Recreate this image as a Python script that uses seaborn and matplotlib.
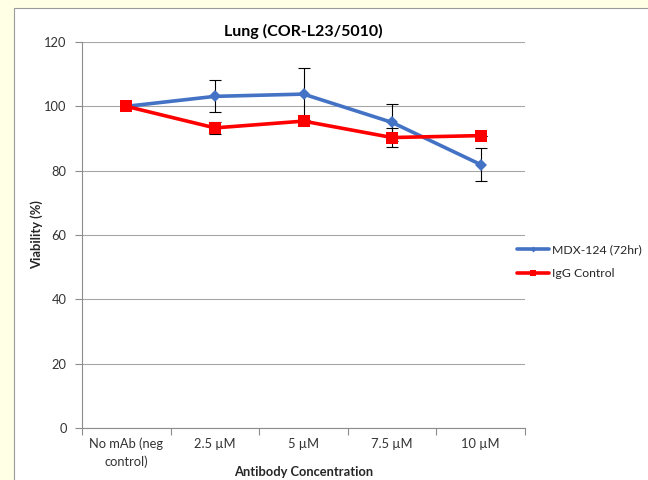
import matplotlib
matplotlib.use("Agg")
import matplotlib.pyplot as plt
import matplotlib.patches as mpatches
from matplotlib.lines import Line2D
import seaborn as sns
import pandas as pd
import numpy as np

categories = ["No mAb (neg\ncontrol)", "2.5 \u00b5M", "5 \u00b5M", "7.5 \u00b5M", "10 \u00b5M"]
mdx_values = [100, 103.1, 103.8, 95.0, 81.9]
mdx_err = [0, 5.0, 8.2, 5.8, 5.0]
igg_values = [100, 93.3, 95.4, 90.3, 90.9]
igg_err = [0, 1.8, 0, 2.9, 0]
series_names = ["MDX-124 (72hr)", "IgG Control"]
yticks = [0, 20, 40, 60, 80, 100, 120]

sns.set_theme(style="white")
plt.rcParams['font.family'] = ['Lato', 'DejaVu Sans']

fig = plt.figure(figsize=(6.48, 4.8), dpi=100)
fig.patch.set_facecolor("#FFFFE6")
# white chart area
fig.patches.append(mpatches.Rectangle((14/648, -0.01), 1, 1.01 - 8/480, transform=fig.transFigure,
                                      facecolor="white", edgecolor="#9A9A9A", linewidth=0.8, zorder=-10))

ax = fig.add_axes([82/648, 52/480, 443/648, 386/480])
ax.set_facecolor("none")

x = np.arange(len(categories))
df = pd.DataFrame({
    "x": np.concatenate([x, x]),
    "v": mdx_values + igg_values,
    "s": [series_names[0]] * len(x) + [series_names[1]] * len(x),
})
blue = "#4472C4"
red = "#FF0000"
palette = {series_names[0]: blue, series_names[1]: red}

ax.errorbar(x, mdx_values, yerr=mdx_err, fmt="none", ecolor="black", elinewidth=0.8, capsize=4, capthick=0.8, zorder=2)
ax.errorbar(x, igg_values, yerr=igg_err, fmt="none", ecolor="black", elinewidth=0.8, capsize=4, capthick=0.8, zorder=2)

sns.lineplot(data=df, x="x", y="v", hue="s", palette=palette, style="s",
             markers={series_names[0]: "D", series_names[1]: "s"}, dashes=False,
             linewidth=2.6, ax=ax, legend=False, zorder=3, markeredgewidth=0)
for line, ms in zip(ax.lines[-2:], [6, 9]):
    line.set_markersize(ms)

fs = 9.3
ax.set_xlim(-0.5, len(categories) - 0.5)
ax.set_ylim(0, 120)
ax.set_yticks(yticks)
ax.set_yticklabels([str(t) for t in yticks], fontsize=fs, color="#333333")
ax.set_xticks(x)
ax.set_xticklabels(categories, fontsize=fs, color="#333333", linespacing=1.45)
ax.set_xticks(np.arange(-0.5, len(categories)), minor=True)
ax.tick_params(axis="x", which="major", length=0, pad=7)
ax.tick_params(axis="x", which="minor", length=5, color="#8C8C8C", width=0.8, direction="out", bottom=True)
ax.tick_params(axis="y", length=5, color="#8C8C8C", width=0.8, direction="out", left=True, pad=6)

ax.grid(axis="y", color="#A6A6A6", linewidth=0.8)
ax.set_axisbelow(True)
for side in ["top", "right"]:
    ax.spines[side].set_visible(False)
for side in ["left", "bottom"]:
    ax.spines[side].set_color("#8C8C8C")
    ax.spines[side].set_linewidth(0.8)

ax.set_title("Lung (COR-L23/5010)", fontsize=11.5, fontweight="bold", pad=4, color="black")
ax.set_xlabel("Antibody Concentration", fontsize=fs, fontweight="bold", va="center")
ax.xaxis.set_label_coords(0.5, (428 - 472) / 386)
ax.set_ylabel("Viability (%)", fontsize=fs, fontweight="bold", va="center")
ax.yaxis.set_label_coords((37 - 82) / 443, 0.5)

handles = [Line2D([], [], color=blue, linewidth=2.6, marker="D", markersize=3, markeredgewidth=0),
           Line2D([], [], color=red, linewidth=2.6, marker="s", markersize=5, markeredgewidth=0)]
fig.legend(handles, series_names, loc="center left", bbox_to_anchor=(506/648, 1 - 262/480),
           frameon=False, fontsize=8.8, handlelength=2.6, handletextpad=0.3, labelspacing=1.05)

fig.savefig("out.png", dpi=100, facecolor=fig.get_facecolor())
